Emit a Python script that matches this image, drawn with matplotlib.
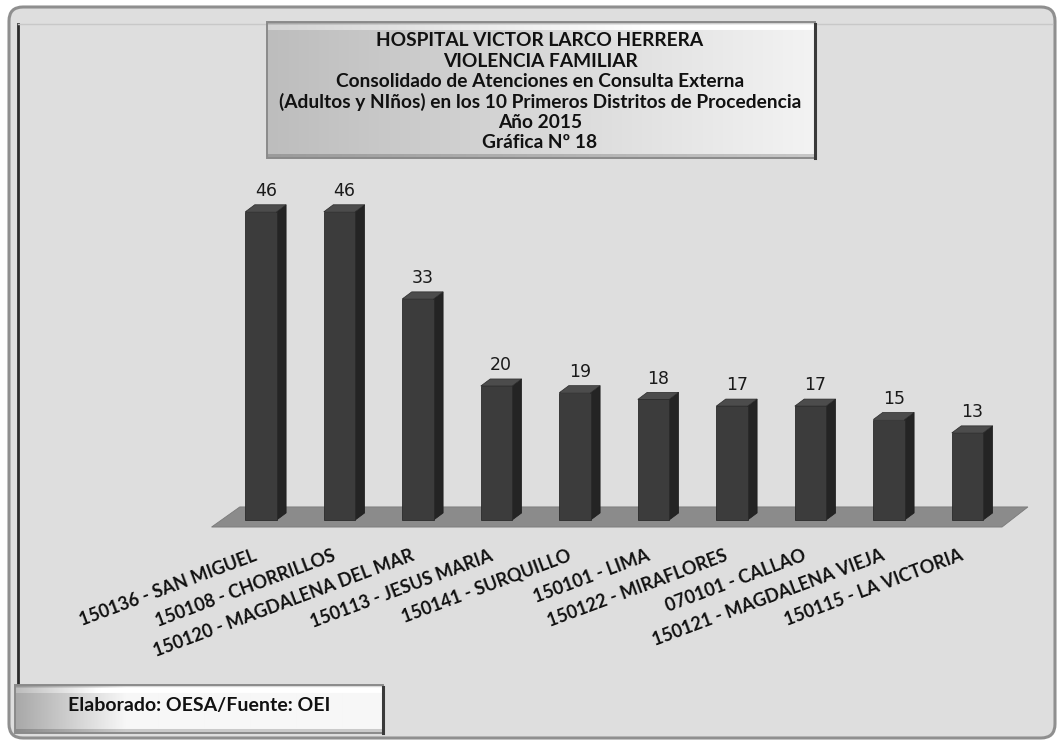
import numpy as np
import matplotlib
matplotlib.use('Agg')
import matplotlib.pyplot as plt
from matplotlib.patches import FancyBboxPatch, Polygon, Rectangle

# Data
districts = [
    '150136 - SAN MIGUEL', '150108 - CHORRILLOS', '150120 - MAGDALENA DEL MAR',
    '150113 - JESUS MARIA', '150141 - SURQUILLO', '150101 - LIMA',
    '150122 - MIRAFLORES', '070101 - CALLAO', '150121 - MAGDALENA VIEJA',
    '150115 - LA VICTORIA',
]
atenciones = [46, 46, 33, 20, 19, 18, 17, 17, 15, 13]

title_lines = [
    'HOSPITAL VICTOR LARCO HERRERA',
    'VIOLENCIA FAMILIAR',
    'Consolidado de Atenciones en Consulta Externa',
    '(Adultos y NIños) en los 10 Primeros Distritos de Procedencia',
    'Año 2015',
    'Gráfica Nº 18',
]
footer = 'Elaborado: OESA/Fuente: OEI'

W, H = 1064, 745
fig = plt.figure(figsize=(W / 100, H / 100), dpi=100)
fig.patch.set_facecolor('white')

# --- background layer in pixel coordinates ---
bg = fig.add_axes([0, 0, 1, 1])
bg.set_xlim(0, W)
bg.set_ylim(H, 0)
bg.axis('off')

panel = FancyBboxPatch((9, 7), W - 18, H - 14, boxstyle='round,pad=0,rounding_size=14',
                       facecolor='#dedede', edgecolor='#8f8f8f', lw=2.2)
bg.add_patch(panel)
bg.plot([18, 18], [24, 686], color='#2a2a2a', lw=2)
bg.plot([18, 1052], [24, 24], color='#c8c8c8', lw=1)


def bevel_box(x0, y0, x1, y1, left, right, ramp):
    # horizontal shading from grey (left) to near white (right), thin rims
    nx, ny = 200, int(y1 - y0)
    t = np.clip(np.linspace(0, 1, nx) / ramp, 0, 1)
    c0 = np.array(matplotlib.colors.to_rgb(left))
    c1 = np.array(matplotlib.colors.to_rgb(right))
    row = c0 + (c1 - c0) * t[:, None]
    img = np.repeat(row[None, :, :], ny, axis=0)
    img[:2] *= 0.88
    img[3:8] = np.minimum(img[3:8] * 1.12, 1)
    img[-4:] *= 0.82
    bg.imshow(img, extent=(x0, x1, y1, y0), aspect='auto', zorder=2,
              interpolation='bilinear')
    bg.add_patch(Rectangle((x0, y0), x1 - x0, y1 - y0, fill=False,
                           edgecolor='#8a8a8a', lw=1.4, zorder=3))
    bg.plot([x1, x1], [y0 + 2, y1], color='#3a3a3a', lw=2.2, zorder=3)


# title box
bevel_box(267, 22, 815, 158, '#bdbdbd', '#f3f3f3', 1.0)
for k, line in enumerate(title_lines):
    bg.text(540, 41 + k * 20.4, line, ha='center', va='center', fontsize=13.8,
            fontweight='bold', family='Lato', color='#111111', zorder=4)

# footer box
bevel_box(15, 685, 383, 733, '#a8a8a8', '#f7f7f7', 0.3)
bg.text(68, 705, footer, ha='left', va='center', fontsize=14,
        fontweight='bold', family='Lato', color='#111111', zorder=4)

# --- chart layer ---
x0_px, step_px, base_px, unit_px = 261, 78.5, 520, 6.7
ax = fig.add_axes([(x0_px - step_px / 2) / W, (H - base_px) / H,
                   10 * step_px / W, 50 * unit_px / H])
ax.set_xlim(-0.5, 9.5)
ax.set_ylim(0, 50)
ax.axis('off')
ax.patch.set_alpha(0)

x = np.arange(len(atenciones))
w = 0.40          # front face width
dx, dy = 0.12, 1.05  # 3D depth offset

# floor slab
floor = Polygon([(-0.63, -1.05), (9.44, -1.05), (9.77, 1.95), (-0.27, 1.95)],
                closed=True, facecolor='#8b8b8b', edgecolor='#7a7a7a', lw=0.6,
                clip_on=False, zorder=1)
ax.add_patch(floor)

ax.bar(x, atenciones, width=w, color='#3c3c3c', edgecolor='#2a2a2a', lw=0.6,
       zorder=4, clip_on=False)
for xi, v in zip(x, atenciones):
    side = Polygon([(xi + w / 2, 0), (xi + w / 2 + dx, dy), (xi + w / 2 + dx, v + dy),
                    (xi + w / 2, v)], closed=True, facecolor='#242424',
                   edgecolor='#1c1c1c', lw=0.5, zorder=3, clip_on=False)
    top = Polygon([(xi - w / 2, v), (xi - w / 2 + dx, v + dy), (xi + w / 2 + dx, v + dy),
                   (xi + w / 2, v)], closed=True, facecolor='#4c4c4c',
                  edgecolor='#2a2a2a', lw=0.5, zorder=3, clip_on=False)
    ax.add_patch(side)
    ax.add_patch(top)
    ax.text(xi + dx / 2, v + 3.1, str(v), ha='center', va='center', fontsize=12.5,
            color='#1a1a1a', clip_on=False)

for xi, lab in zip(x, districts):
    ax.text(xi - 0.1, -4.0, lab, rotation=20.5, rotation_mode='anchor', ha='right',
            va='top', fontsize=13, fontweight='bold', family='Lato', color='#111111',
            clip_on=False)

fig.savefig('out.png', dpi=100, facecolor=fig.get_facecolor())
